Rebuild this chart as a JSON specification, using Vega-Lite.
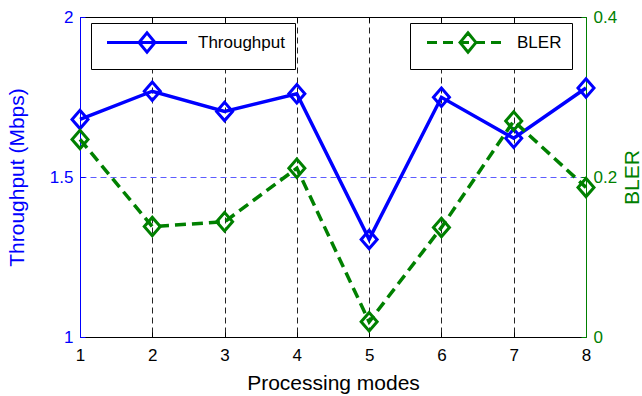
{
  "$schema": "https://vega.github.io/schema/vega-lite/v6.json",
  "width": 506,
  "height": 320,
  "autosize": {"type": "none"},
  "padding": {"left": 80, "top": 17, "right": 56, "bottom": 59},
  "background": "white",
  "config": {
    "view": {"stroke": null},
    "font": "Liberation Sans",
    "axis": {
      "labelFont": "Liberation Sans",
      "titleFont": "Liberation Sans",
      "labelFontSize": 17,
      "titleFontSize": 21,
      "titleFontWeight": "normal",
      "tickSize": -5,
      "tickWidth": 1,
      "domainWidth": 1,
      "labelFlush": false,
      "labelOverlap": false
    },
    "axisY": {"gridColor": "#5c5cff"},
    "legend": {
      "labelFont": "Liberation Sans",
      "labelFontSize": 17,
      "labelColor": "black"
    }
  },
  "data": {
    "values": [
      {"mode": 1, "throughput": 1.680, "bler": 0.247},
      {"mode": 2, "throughput": 1.768, "bler": 0.138},
      {"mode": 3, "throughput": 1.705, "bler": 0.144},
      {"mode": 4, "throughput": 1.760, "bler": 0.211},
      {"mode": 5, "throughput": 1.305, "bler": 0.019},
      {"mode": 6, "throughput": 1.749, "bler": 0.137},
      {"mode": 7, "throughput": 1.621, "bler": 0.270},
      {"mode": 8, "throughput": 1.778, "bler": 0.187}
    ]
  },
  "layer": [
    {
      "layer": [
        {
          "mark": {"type": "line", "strokeWidth": 3.5},
          "encoding": {
            "x": {
              "field": "mode",
              "type": "quantitative",
              "scale": {"domain": [1, 8], "nice": false, "zero": false},
              "axis": {
                "orient": "bottom",
                "values": [1, 2, 3, 4, 5, 6, 7, 8],
                "format": "d",
                "labelColor": "black",
                "labelPadding": 15,
                "tickColor": "black",
                "domainColor": "black",
                "grid": true,
                "gridColor": "#222222",
                "gridDash": [6, 4],
                "gridWidth": 1,
                "gridOpacity": {"condition": {"test": "datum.value > 1 && datum.value < 8", "value": 1}, "value": 0},
                "title": "Processing modes",
                "titleColor": "black",
                "titleX": 253,
                "titleY": 52,
                "titleAlign": "center",
                "titleBaseline": "alphabetic"
              }
            },
            "y": {
              "field": "throughput",
              "type": "quantitative",
              "scale": {"domain": [1, 2], "nice": false, "zero": false},
              "axis": {
                "orient": "left",
                "values": [1, 1.5, 2],
                "format": "~g",
                "labelColor": "#0000ff",
                "labelPadding": 12,
                "tickColor": "#0000ff",
                "domainColor": "#0000ff",
                "grid": true,
                "gridColor": "#5c5cff",
                "gridDash": [6, 4],
                "gridWidth": 1,
                "gridOpacity": {"condition": {"test": "datum.value > 1.2 && datum.value < 1.8", "value": 1}, "value": 0},
                "title": "Throughput (Mbps)",
                "titleColor": "#0000ff",
                "titleAngle": 270,
                "titleX": -63,
                "titleY": 160,
                "titleAlign": "center",
                "titleBaseline": "middle"
              }
            },
            "color": {
              "datum": "Throughput",
              "type": "nominal",
              "scale": {"domain": ["Throughput"], "range": ["#0000ff"]},
              "legend": {
                "title": null,
                "orient": "none",
                "legendX": 11,
                "legendY": 6,
                "padding": 10,
                "strokeColor": "black",
                "fillColor": "white",
                "symbolType": "M-0.4375,0H9.5625M3.5625,0L4.5625,-1.2L5.5625,0L4.5625,1.2Z",
                "symbolSize": 256,
                "symbolStrokeWidth": 3,
                "symbolFillColor": "transparent",
                "labelOffset": 78,
                "encode": {
                  "symbols": {
                    "update": {
                      "fill": {"value": "transparent"},
                      "stroke": {"value": "#0000ff"},
                      "strokeWidth": {"value": 3}
                    }
                  }
                }
              }
            }
          }
        },
        {
          "mark": {"type": "point", "shape": "M-1,0L0,-1.15L1,0L0,1.15Z", "filled": false, "size": 256, "strokeWidth": 3, "color": "#0000ff", "opacity": 1},
          "encoding": {
            "x": {"field": "mode", "type": "quantitative", "axis": {"grid": true, "gridColor": "#222222"}},
            "y": {"field": "throughput", "type": "quantitative", "axis": {"grid": true, "gridColor": "#5c5cff"}}
          }
        }
      ]
    },
    {
      "layer": [
        {
          "mark": {"type": "line", "strokeWidth": 3.5, "strokeDash": [11, 6]},
          "encoding": {
            "x": {
              "field": "mode",
              "type": "quantitative",
              "axis": {
                "orient": "top",
                "values": [1, 2, 3, 4, 5, 6, 7, 8],
                "labels": false,
                "tickColor": "black",
                "domainColor": "black",
                "grid": false,
                "title": null
              }
            },
            "y": {
              "field": "bler",
              "type": "quantitative",
              "scale": {"domain": [0, 0.4], "nice": false, "zero": false},
              "axis": {
                "orient": "right",
                "values": [0, 0.2, 0.4],
                "format": "~g",
                "labelColor": "#008000",
                "labelPadding": 12,
                "tickColor": "#008000",
                "domainColor": "#008000",
                "grid": false,
                "title": "BLER",
                "titleColor": "#008000",
                "titleAngle": 270,
                "titleX": 46,
                "titleY": 160,
                "titleAlign": "center",
                "titleBaseline": "middle"
              }
            },
            "color": {
              "datum": "BLER",
              "type": "nominal",
              "scale": {"domain": ["BLER"], "range": ["#008000"]},
              "legend": {
                "title": null,
                "orient": "none",
                "legendX": 330,
                "legendY": 6,
                "padding": 10,
                "strokeColor": "black",
                "fillColor": "white",
                "symbolType": "M-0.3125,0H9.0625M4.5625,-0.9L4.8125,-1.2L5.0625,-0.9M5.5625,-0.3L5.8125,0L5.5625,0.3M5.0625,0.9L4.8125,1.2L4.5625,0.9M4.0625,0.3L3.8125,0L4.0625,-0.3M4.0625,-0.3L4.5625,-0.9M5.0625,-0.9L5.5625,-0.3M5.5625,0.3L5.0625,0.9M4.5625,0.9L4.0625,0.3",
                "symbolSize": 256,
                "symbolStrokeWidth": 3,
                "symbolDash": [10, 6],
                "symbolFillColor": "transparent",
                "labelOffset": 78,
                "encode": {
                  "symbols": {
                    "update": {
                      "fill": {"value": "transparent"},
                      "stroke": {"value": "#008000"},
                      "strokeWidth": {"value": 3},
                      "strokeDash": {"value": [10, 6]}
                    }
                  }
                }
              }
            }
          }
        },
        {
          "mark": {"type": "point", "shape": "M-1,0L0,-1.15L1,0L0,1.15Z", "filled": false, "size": 256, "strokeWidth": 3, "color": "#008000", "opacity": 1},
          "encoding": {
            "x": {"field": "mode", "type": "quantitative", "axis": {"grid": false}},
            "y": {"field": "bler", "type": "quantitative", "axis": {"grid": false}}
          }
        }
      ]
    }
  ],
  "resolve": {
    "scale": {"y": "independent", "color": "independent"},
    "axis": {"x": "independent"}
  }
}
